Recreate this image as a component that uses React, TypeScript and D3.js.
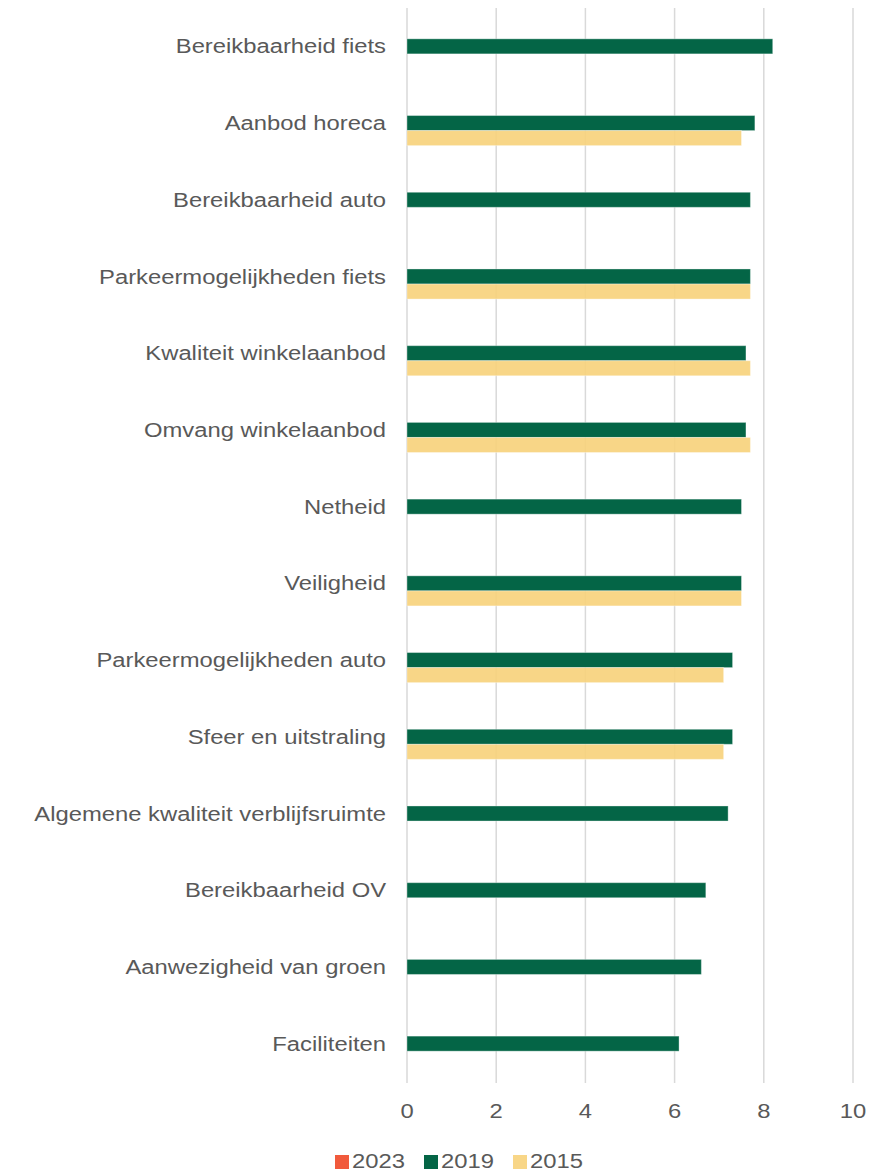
import React from "react";
import * as d3 from "d3";

const categories = [
  "Bereikbaarheid fiets",
  "Aanbod horeca",
  "Bereikbaarheid auto",
  "Parkeermogelijkheden fiets",
  "Kwaliteit winkelaanbod",
  "Omvang winkelaanbod",
  "Netheid",
  "Veiligheid",
  "Parkeermogelijkheden auto",
  "Sfeer en uitstraling",
  "Algemene kwaliteit verblijfsruimte",
  "Bereikbaarheid OV",
  "Aanwezigheid van groen",
  "Faciliteiten",
];

const seriesNames = ["2023", "2019", "2015"];
const values2023: (number | null)[] = [null, null, null, null, null, null, null, null, null, null, null, null, null, null];
const values2019: (number | null)[] = [8.2, 7.8, 7.7, 7.7, 7.6, 7.6, 7.5, 7.5, 7.3, 7.3, 7.2, 6.7, 6.6, 6.1];
const values2015: (number | null)[] = [null, 7.5, null, 7.7, 7.7, 7.7, null, 7.5, 7.1, 7.1, null, null, null, null];
const xTicks = [0, 2, 4, 6, 8, 10];

const colors: Record<string, string> = { "2023": "#F15A3C", "2019": "#046546", "2015": "#F7D27A" };
const opac: Record<string, number> = { "2023": 1, "2019": 1, "2015": 0.9 };

const SX = 1.19;

function T({ x, y, anchor, children, dy }: { x: number; y: number; anchor?: string; children: React.ReactNode; dy?: string }) {
  return (
    <text
      transform={`translate(${x},${y}) scale(${SX},1)`}
      dy={dy}
      textAnchor={anchor || "start"}
      fontSize={20}
      fill="#595959"
    >
      {children}
    </text>
  );
}

export default function App() {
  const W = 895, H = 1173;
  const x = d3.scaleLinear().domain([0, 10]).range([407, 853]);
  const y = d3.scaleBand<string>().domain(categories).range([8, 1082]);
  const step = y.step();
  const groupH = step / 1.7;
  const sub = d3.scaleBand<string>().domain(seriesNames).range([0, groupH]);
  const seriesVals: Record<string, (number | null)[]> = { "2023": values2023, "2019": values2019, "2015": values2015 };
  const font = "'Liberation Sans', Arial, sans-serif";

  const legendItems = [
    { name: "2023", sx: 335, tx: 352 },
    { name: "2019", sx: 424, tx: 441 },
    { name: "2015", sx: 513, tx: 530 },
  ];

  return (
    <svg width={W} height={H} style={{ position: "absolute", left: 0, top: 0, background: "#fff" }} fontFamily={font}>
      {xTicks.map((t) => (
        <line key={"g" + t} x1={x(t)} x2={x(t)} y1={8} y2={1083} stroke="#D9D9D9" strokeWidth={1.5} />
      ))}
      {categories.map((c, i) => {
        const cy = (y(c) as number) + step / 2;
        const top = cy - groupH / 2;
        return (
          <g key={c}>
            {seriesNames.map((s) => {
              const v = seriesVals[s][i];
              if (v == null) return null;
              return (
                <rect
                  key={s}
                  x={x(0)}
                  y={top + (sub(s) as number)}
                  width={x(v) - x(0)}
                  height={sub.bandwidth()}
                  fill={colors[s]}
                  fillOpacity={opac[s]}
                  stroke="rgba(255,255,255,0.35)"
                  strokeWidth={1}
                />
              );
            })}
            <T x={386} y={cy} dy="0.35em" anchor="end">
              {c}
            </T>
          </g>
        );
      })}
      {xTicks.map((t) => (
        <T key={"t" + t} x={x(t)} y={1118} anchor="middle">
          {t}
        </T>
      ))}
      {legendItems.map((l) => (
        <g key={l.name}>
          <rect x={l.sx} y={1155} width={14} height={14} fill={colors[l.name]} fillOpacity={opac[l.name]} />
          <T x={l.tx} y={1168}>
            {l.name}
          </T>
        </g>
      ))}
    </svg>
  );
}
